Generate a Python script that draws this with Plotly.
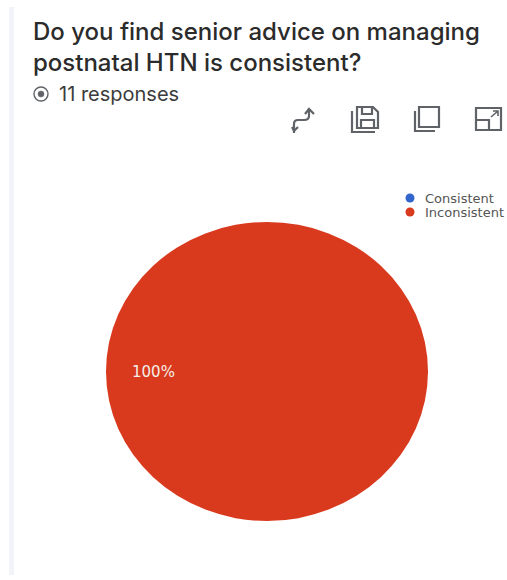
import plotly.graph_objects as go

# Survey answers
categories = ["Consistent", "Inconsistent"]
responses = [0, 11]
colors = ["#3366cc", "#d93a1e"]
question = "Do you find senior advice on managing<br>postnatal HTN is consistent?"
total = sum(responses)
share_label = f"{round(100 * responses[1] / total)}%"

W, H = 507, 580
ICON = "#5f6368"
legend_rows = [198, 212]


def line(path, width=2.2, color=ICON):
    return dict(type="path", path=path, xref="x", yref="y",
                line=dict(color=color, width=width), fillcolor="rgba(0,0,0,0)", layer="above")


def box(x0, y0, x1, y1, width=2.2, color=ICON, fill="rgba(0,0,0,0)", kind="rect"):
    return dict(type=kind, x0=x0, y0=y0, x1=x1, y1=y1, xref="x", yref="y",
                line=dict(color=color, width=width), fillcolor=fill, layer="above")


shapes = [
    # pale page edge
    dict(type="rect", x0=9, x1=14, y0=7, y1=575, xref="x", yref="y",
         line=dict(width=0), fillcolor="#f3f3fa", layer="below"),
    # responses marker
    box(34, 87, 48, 101, 1.4, "#5f6368", kind="circle"),
    box(38, 91, 44, 97, 0.5, "#5f6368", "#5f6368", "circle"),
    # switch-axes icon
    line("M 294 133 L 294 124 Q 294 120 298 120 L 304 120 Q 309 120 309 116 L 309 110"),
    line("M 292 127 L 294 131 L 298 127 M 305 114 L 309 109 L 314 114"),
    # save icon
    line("M 357 107 L 373 107 L 378 112 L 378 128 L 357 128 Z"),
    line("M 352 111 L 352 132 L 375 132"),
    line("M 362 107 L 362 114 L 372 114 L 372 107 M 361 128 L 361 120 L 374 120 L 374 128"),
    # duplicate icon
    box(419, 107, 439, 127),
    line("M 415 111 L 415 131 L 435 131"),
    # expand icon
    box(476, 108, 501, 130),
    line("M 476 120 L 489 120 L 489 130"),
    line("M 491 117 L 498 111 M 493 111 L 498 111 L 498 116", 1.6),
]

annotations = [
    dict(text="11 responses", x=57, y=94, xref="x", yref="y", xanchor="left", yanchor="middle",
         showarrow=False, font=dict(family="Inter", size=20, color="#3c3c3c")),
    dict(text=share_label, x=153.5, y=372, xref="x", yref="y", xanchor="center", yanchor="middle",
         showarrow=False, font=dict(family="DejaVu Sans", size=15, color="#f4efe9")),
]

# Compact legend: round swatch and label on tight rows
for name, color, row in zip(categories, colors, legend_rows):
    shapes.append(box(405.5, row - 4.5, 414.5, row + 4.5, 0, color, color, "circle"))
    annotations.append(dict(text=name, x=423, y=row, xref="x", yref="y", xanchor="left",
                            yanchor="middle", showarrow=False,
                            font=dict(family="DejaVu Sans", size=13, color="#555555")))

fig = go.Figure()
fig.add_trace(go.Pie(
    labels=categories, values=responses, sort=False, textinfo="none", hoverinfo="label+percent",
    marker=dict(colors=colors, line=dict(width=0)), showlegend=False,
    domain=dict(x=[106 / W, 428 / W], y=[1 - 521 / H, 1 - 222 / H]),
))
# Empty series keeps the pixel-scaled axes alive for the annotations and shapes
fig.add_trace(go.Scatter(x=[None], y=[None], showlegend=False, hoverinfo="skip"))

fig.update_layout(
    width=W, height=H, margin=dict(l=0, r=0, t=0, b=0),
    paper_bgcolor="white", plot_bgcolor="rgba(0,0,0,0)", showlegend=False,
    title=dict(text=question, x=33 / W, xanchor="left", y=1 - 40 / H, yanchor="middle",
               font=dict(family="Inter", size=24, color="#2b2b2b", weight=500)),
    xaxis=dict(range=[0, W], visible=False, fixedrange=True),
    yaxis=dict(range=[H, 0], visible=False, fixedrange=True),
    shapes=shapes,
    annotations=annotations,
)

# The pie is drawn slightly wider than tall
stretch = """
var g = document.querySelector('.pielayer');
if (g) {
  var cx = 267, k = 322 / 299;
  g.setAttribute('transform', 'translate(' + cx + ',0) scale(' + k + ',1) translate(' + (-cx) + ',0)');
}
"""
fig.write_html("out.html", post_script=stretch, config=dict(displayModeBar=False))
